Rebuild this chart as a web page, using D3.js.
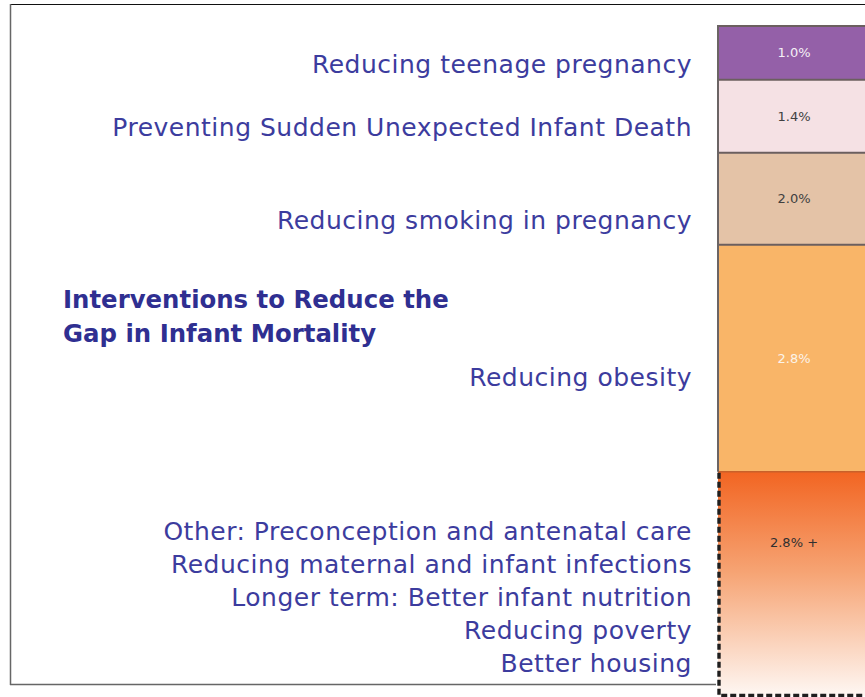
<!doctype html>
<html>
<head>
<meta charset="utf-8">
<style>
  body { margin: 0; background: #fff; }
  svg { display: block; }
</style>
<script src="https://d3js.org/d3.v7.min.js"></script>
<title>Interventions to Reduce the Gap in Infant Mortality</title>
</head>
<body>
<svg width="865" height="697"></svg>
<script>
// segment values as shown, top to bottom
var segmentLabels = ["1.0%", "1.4%", "2.0%", "2.8%", "2.8% +"];
// drawn size of each segment (relative units)
var segmentSizes = [1.02, 1.38, 1.74, 4.30, 4.19];
var segmentColors = ["#9460a8", "#f5e1e4", "#e4c3a7", "#f9b568", "url(#fade)"];
var labelInk = ["#f4f0f6", "#404040", "#404040", "#fbf3ea", "#303030"];

var interventions = [
  ["Reducing teenage pregnancy"],
  ["Preventing Sudden Unexpected Infant Death"],
  ["Reducing smoking in pregnancy"],
  ["Reducing obesity"],
  ["Other: Preconception and antenatal care",
   "Reducing maternal and infant infections",
   "Longer term: Better infant nutrition",
   "Reducing poverty",
   "Better housing"]
];
var titleLines = ["Interventions to Reduce the", "Gap in Infant Mortality"];

var svg = d3.select("svg");
var barX = 718, barW = 152, barTop = 26, barBottom = 693;

var stacked = [];
var acc = 0;
segmentSizes.forEach(function(s, i) {
  stacked.push({ i: i, y0: acc, y1: acc + s });
  acc += s;
});

var y = d3.scaleLinear().domain([0, acc]).range([barTop, barBottom]);

var defs = svg.append("defs");
var grad = defs.append("linearGradient").attr("id", "fade")
  .attr("x1", 0).attr("y1", 0).attr("x2", 0).attr("y2", 1);
grad.append("stop").attr("offset", "0%").attr("stop-color", "#f26522");
grad.append("stop").attr("offset", "45%").attr("stop-color", "#f6a474");
grad.append("stop").attr("offset", "100%").attr("stop-color", "#fef7f3");

// frame
svg.append("line").attr("x1", 10).attr("x2", 865).attr("y1", 4.5).attr("y2", 4.5)
  .attr("stroke", "#111").attr("stroke-width", 1.2);
svg.append("line").attr("x1", 10.5).attr("x2", 10.5).attr("y1", 4).attr("y2", 685)
  .attr("stroke", "#666").attr("stroke-width", 1.5);
svg.append("line").attr("x1", 10).attr("x2", 716).attr("y1", 684.5).attr("y2", 684.5)
  .attr("stroke", "#666").attr("stroke-width", 1.5);

// bar segments
svg.selectAll("rect.seg")
  .data(stacked)
  .enter().append("rect")
  .attr("class", "seg")
  .attr("x", barX)
  .attr("y", function(d) { return y(d.y0); })
  .attr("width", barW)
  .attr("height", function(d) { return y(d.y1) - y(d.y0) + (d.i === 4 ? 3 : 0); })
  .attr("fill", function(d) { return segmentColors[d.i]; });

// dividers between segments
svg.selectAll("line.div")
  .data(stacked.slice(0, 4))
  .enter().append("line")
  .attr("class", "div")
  .attr("x1", barX).attr("x2", 865)
  .attr("y1", function(d) { return y(d.y0); })
  .attr("y2", function(d) { return y(d.y0); })
  .attr("stroke", "#6b5f5f").attr("stroke-width", 2);
svg.append("line")
  .attr("x1", barX).attr("x2", 865)
  .attr("y1", y(stacked[4].y0)).attr("y2", y(stacked[4].y0))
  .attr("stroke", "#c8612a").attr("stroke-width", 1.5);

// left edge of the solid part
svg.append("line")
  .attr("x1", barX).attr("x2", barX)
  .attr("y1", y(0) - 1).attr("y2", y(stacked[4].y0))
  .attr("stroke", "#6b6464").attr("stroke-width", 2);

// dashed outline on the open-ended segment
var last = stacked[4];
svg.append("path")
  .attr("d", "M" + (barX + 1) + "," + (y(last.y0) + 1) + "V" + (y(last.y1) + 2.5) + "H865")
  .attr("fill", "none")
  .attr("stroke", "#1e1e1e")
  .attr("stroke-width", 3.4)
  .attr("stroke-dasharray", "6,3");

// value labels
var labelY = [0.5, 0.5, 0.5, 0.5, 0.32];
svg.selectAll("text.val")
  .data(stacked)
  .enter().append("text")
  .attr("class", "val")
  .attr("x", barX + 76)
  .attr("y", function(d) { return y(d.y0 + (d.y1 - d.y0) * labelY[d.i]); })
  .attr("dy", "0.35em")
  .attr("text-anchor", "middle")
  .style("font-family", "'DejaVu Sans', sans-serif")
  .style("font-size", "13px")
  .attr("fill", function(d) { return labelInk[d.i]; })
  .text(function(d) { return segmentLabels[d.i]; });

// intervention labels, right-aligned against the bar
var textShift = [11, 11, 22, 19, 15];
var lineGap = 33;
interventions.forEach(function(lines, i) {
  var s = stacked[i];
  var mid = (y(s.y0) + y(s.y1)) / 2 + textShift[i];
  var first = mid - (lines.length - 1) * lineGap / 2;
  var t = svg.append("text")
    .attr("text-anchor", "end")
    .style("font-family", "'DejaVu Sans', sans-serif")
    .style("font-size", "25px")
    .style("letter-spacing", "0.5px")
    .attr("fill", "#3c3c9e");
  lines.forEach(function(line, j) {
    t.append("tspan")
      .attr("x", 692)
      .attr("y", first + j * lineGap)
      .attr("dy", "0.35em")
      .text(line);
  });
});

// title
var title = svg.append("text")
  .style("font-family", "'DejaVu Sans', sans-serif")
  .style("font-size", "24.4px")
  .style("font-weight", "bold")
  .attr("fill", "#2f2f91");
titleLines.forEach(function(line, j) {
  title.append("tspan")
    .attr("x", 63)
    .attr("y", 299 + j * 34)
    .attr("dy", "0.35em")
    .text(line);
});
</script>
</body>
</html>
